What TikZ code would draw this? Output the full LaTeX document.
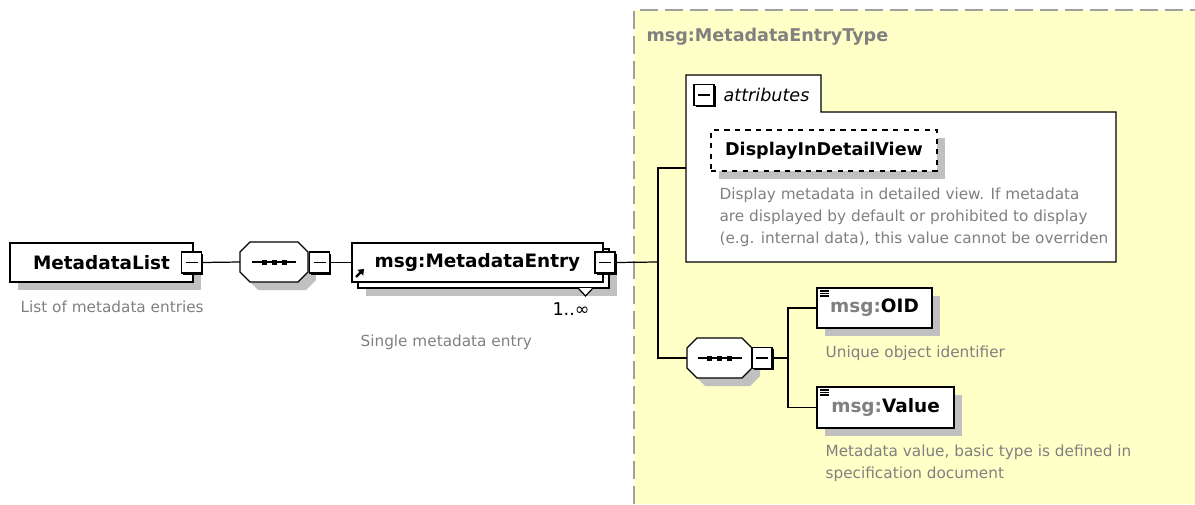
\documentclass[tikz,border=0pt]{standalone}
\usepackage{fontspec}
\setmainfont{DejaVu Sans}
\usetikzlibrary{positioning,arrows.meta,calc,shadows}
\definecolor{paleyellow}{RGB}{255,255,200}
\definecolor{softgray}{RGB}{128,128,128}
\definecolor{shadowgray}{RGB}{192,192,192}
\definecolor{bordergray}{RGB}{160,160,160}

\begin{document}
\begin{tikzpicture}[x=0.02cm,y=-0.02cm,line width=0.7pt,
  elem/.style={draw,fill=white,inner sep=0pt,outer sep=0pt,font=\fontsize{10.5}{12}\selectfont\bfseries},
  shade/.style={drop shadow={shadow xshift=0.16cm,shadow yshift=-0.16cm,fill=shadowgray,opacity=1}},
  minusbox/.style={draw,fill=white,inner sep=0pt,outer sep=0pt,minimum width=0.4cm,minimum height=0.42cm,
    drop shadow={shadow xshift=0.035cm,shadow yshift=-0.035cm,fill=black,opacity=1},
    path picture={\draw (path picture bounding box.center) ++(-0.12cm,0) -- ++(0.24cm,0);}},
  seqbox/.style={inner sep=0pt,outer sep=0pt,minimum height=0.8cm},
  desc/.style={anchor=west,align=left,inner sep=0pt,text=softgray,font=\fontsize{8.7}{12.4}\selectfont}]
\useasboundingbox (0,0) rectangle (1195,504);

% Complex type area
\fill[paleyellow] (634,10) rectangle (1195,504);
\draw[bordergray,line width=1.1pt,dash pattern=on 0.36cm off 0.14cm] (634,504) -- (634,10) -- (1195,10);
\node[anchor=west,inner sep=0pt,text=softgray,font=\fontsize{10}{12}\selectfont\bfseries] (typename) at (646,37) {msg:MetadataEntryType};

% Root element
\node[elem,shade,minimum width=3.66cm,minimum height=0.78cm] (mlist) at (101.5,262.5) {MetadataList};
\node[minusbox] (mlminus) at (191.5,262.5) {};
\node[desc] (mldesc) at (20,307) {List of metadata entries};

% Outer sequence
\node[seqbox,minimum width=1.36cm] (seq1) at (274,262) {};
\filldraw[fill=white,shade] ([xshift=0.2cm]seq1.north west) -- ([xshift=-0.2cm]seq1.north east) -- ([yshift=-0.2cm]seq1.north east)
  -- ([yshift=0.2cm]seq1.south east) -- ([xshift=-0.2cm]seq1.south east) -- ([xshift=0.2cm]seq1.south west)
  -- ([yshift=0.2cm]seq1.south west) -- ([yshift=-0.2cm]seq1.north west) -- cycle;
\draw ([xshift=-0.44cm]seq1.center) -- ([xshift=0.44cm]seq1.center);
\fill ([xshift=-0.2cm]seq1.center) +(-2.5,-2.5) rectangle +(2.5,2.5);
\fill (seq1.center) +(-2.5,-2.5) rectangle +(2.5,2.5);
\fill ([xshift=0.2cm]seq1.center) +(-2.5,-2.5) rectangle +(2.5,2.5);
\node[minusbox] (seq1minus) at (319.5,262.5) {};

% Repeated entry
\node[elem,shade,minimum width=5.02cm,minimum height=0.78cm] (entryback) at (483.5,268.5) {};
\node[elem,minimum width=5.02cm,minimum height=0.78cm] (entry) at (477.5,262.5) {msg:MetadataEntry};
\draw[line width=1.3pt,-{Triangle[length=3pt,width=4.5pt]}] ([shift={(4,-5)}]entry.south west) -- ++(8,-8);
\filldraw[fill=white] (578,288) -- (585.5,296) -- (593,288);
\node[minusbox] (entryminus) at (605,262.5) {};
\node[inner sep=0pt,font=\fontsize{10}{12}\selectfont] (entrycard) at (571,309) {1..∞};
\node[desc] (entrydesc) at (360,342) {Single metadata entry};

% Attributes
\node[inner sep=0pt,outer sep=0pt,minimum width=8.6cm,minimum height=3.0cm] (attrs) at (901,187) {};
\filldraw[fill=white] (attrs.south west) -- (686,75) -- (821,75) -- (821,112) -- (attrs.north east) -- (attrs.south east) -- cycle;
\node[minusbox] (attrminus) at (704,95) {};
\node[anchor=west,inner sep=0pt,font=\fontsize{10}{12}\selectfont\itshape] (attrlabel) at (723,95) {attributes};
\node[elem,dashed,shade,minimum width=4.52cm,minimum height=0.82cm,font=\fontsize{10}{12}\selectfont\bfseries] (detail) at (824,150.5) {DisplayInDetailView};
\node[desc] (detaildesc) at (719,217) {Display metadata in detailed view. If metadata\\are displayed by default or prohibited to display\\(e.g. internal data), this value cannot be overriden};

% Inner sequence
\node[seqbox,minimum width=1.30cm] (seq2) at (719.5,358) {};
\filldraw[fill=white,shade] ([xshift=0.2cm]seq2.north west) -- ([xshift=-0.2cm]seq2.north east) -- ([yshift=-0.2cm]seq2.north east)
  -- ([yshift=0.2cm]seq2.south east) -- ([xshift=-0.2cm]seq2.south east) -- ([xshift=0.2cm]seq2.south west)
  -- ([yshift=0.2cm]seq2.south west) -- ([yshift=-0.2cm]seq2.north west) -- cycle;
\draw ([xshift=-0.44cm]seq2.center) -- ([xshift=0.44cm]seq2.center);
\fill ([xshift=-0.2cm]seq2.center) +(-2.5,-2.5) rectangle +(2.5,2.5);
\fill (seq2.center) +(-2.5,-2.5) rectangle +(2.5,2.5);
\fill ([xshift=0.2cm]seq2.center) +(-2.5,-2.5) rectangle +(2.5,2.5);
\node[minusbox] (seq2minus) at (762,358) {};

% Child elements
\node[elem,shade,minimum width=2.3cm,minimum height=0.8cm] (oid) at (874.5,308) {\textcolor{softgray}{msg:}OID};
\draw ([shift={(3,3)}]oid.north west) -- ++(9,0);
\draw ([shift={(3,5.5)}]oid.north west) -- ++(9,0);
\draw ([shift={(3,8)}]oid.north west) -- ++(9,0);
\node[desc] (oiddesc) at (825,353) {Unique object identifier};
\node[elem,shade,minimum width=2.74cm,minimum height=0.82cm] (value) at (885.5,407.5) {\textcolor{softgray}{msg:}Value};
\draw ([shift={(3,3)}]value.north west) -- ++(9,0);
\draw ([shift={(3,5.5)}]value.north west) -- ++(9,0);
\draw ([shift={(3,8)}]value.north west) -- ++(9,0);
\node[desc] (valuedesc) at (825,463.5) {Metadata value, basic type is defined in\\specification document};

% Connectors
\coordinate (split1) at (658,262);
\coordinate (split2) at (788,358);
\draw (mlminus.east) -- (seq1.west);
\draw (seq1minus.east) -- (entry.west);
\draw (entryminus.east) -- (split1);
\draw (split1) |- ([yshift=-1.12cm]attrs.north west);
\draw (split1) |- (seq2.west);
\draw (seq2minus.east) -- (split2);
\draw (split2) |- (oid.west);
\draw (split2) |- (value.west);
\end{tikzpicture}
\end{document}
